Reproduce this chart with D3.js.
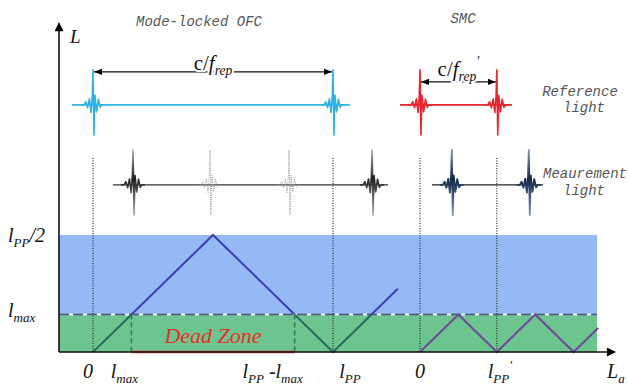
<html>
<script src="https://d3js.org/d3.v7.min.js"></script>
<style>
body {margin:0; background:#fff;}
text {font-family:"Liberation Serif", serif;}
.note {font-family:"Liberation Mono", monospace; font-style:italic; fill:#555; font-size:14px;}
</style>
<body>
<svg width=628 height=388></svg>
<script>
// lengths in units of l_PP
var lPP = 1, lMax = 0.16, lPP2 = 0.32, smcZero = 1.3625;
var xTickValues = [0, 0.16, 0.84, 1, 1.3625, 1.6825];
var xTickLabels = [[["0","i"]], [["l","i"],["max","sub"]], [["l","i"],["PP","sub"],[" -l","i"],["max","sub"]],
                   [["l","i"],["PP","sub"]], [["0","i"]], [["l","i"],["PP","sub"],["'","sup"]]];
var xLabelShift = [-5, -7, -22, 17, 0, 3];
var yTickValues = [0.5, 0.16];
var yTickLabels = [[["l","i"],["PP","sub"],["/2","i"]], [["l","i"],["max","sub"]]];
var ofcPath = [[0,0],[0.5,0.5],[1,0],[1.27,0.27]];
var smcPath = [[1.3625,0],[1.5225,0.16],[1.6825,0],[1.8425,0.16],[2.0025,0],[2.105,0.1025]];
var refOFC = [0, 1], refSMC = [1.3625, 1.6825];
var measOFC = [0.167, 1.163], ghostOFC = [0.4875, 0.817], measSMC = [1.495, 1.816];
var refRow = 1.056, measRow = 0.714, refArrow = 1.197, smcArrow = 1.154, dotTop = 0.829;
var refSpan = [-0.0875, 1.071], redSpan = [1.279, 1.746], graySpan = [0.083, 1.229], navySpan = [1.4125, 1.875];
var bandEnd = 2.1;
// normalised pulse glyph (dx, dy)
var pulseWave = [[-1,0],[-0.75,0],[-0.6,0.09],[-0.45,-0.08],[-0.3,0.17],[-0.16,-0.22],[-0.06,0.25],[0,1],
                 [0.08,-0.86],[0.16,0.27],[0.3,-0.2],[0.45,0.16],[0.6,-0.07],[0.75,0],[1,0]];

var svg = d3.select("svg");
var x = d3.scaleLinear().domain([-0.1417, 2.175]).range([59, 615]);
var y = d3.scaleLinear().domain([0, 1.41]).range([352, 22]);
var line = d3.line().x(d => x(d[0])).y(d => y(d[1]));
var x0 = x(x.domain()[0]);

var defs = svg.append("defs");
defs.append("marker").attr("id","ah").attr("viewBox","0 0 10 10").attr("refX",10).attr("refY",5)
  .attr("markerWidth",8).attr("markerHeight",8).attr("markerUnits","userSpaceOnUse").attr("orient","auto-start-reverse")
  .append("path").attr("d","M0,1L10,5L0,9z").attr("fill","#000");
defs.append("marker").attr("id","axh").attr("viewBox","0 0 10 10").attr("refX",9).attr("refY",5)
  .attr("markerWidth",11).attr("markerHeight",9).attr("markerUnits","userSpaceOnUse").attr("orient","auto")
  .append("path").attr("d","M0,0L10,5L0,10z").attr("fill","#000");
function grad(id, c1, c2) {
  var g = defs.append("linearGradient").attr("id", id).attr("x1",0).attr("y1",0).attr("x2",0).attr("y2",1);
  g.append("stop").attr("offset","0").attr("stop-color",c2);
  g.append("stop").attr("offset","0.45").attr("stop-color",c1);
  g.append("stop").attr("offset","1").attr("stop-color",c2);
}
grad("gGray", "#222", "#aaa");
grad("gNavy", "#13294a", "#7f95b5");
defs.append("clipPath").attr("id","above").append("rect").attr("x",0).attr("y",0).attr("width",628).attr("height",y(lMax));
defs.append("clipPath").attr("id","below").append("rect").attr("x",0).attr("y",y(lMax)).attr("width",628).attr("height",100);

// zones
svg.append("rect").attr("x",x0).attr("y",y(0.5))
  .attr("width",x(bandEnd)-x0).attr("height",y(lMax)-y(0.5)).attr("fill","#95b9f4");
svg.append("rect").attr("x",x0).attr("y",y(lMax))
  .attr("width",x(bandEnd)-x0).attr("height",y(0)-y(lMax)).attr("fill","#6cc48e");
svg.append("line").attr("x1",x0).attr("x2",x(bandEnd)).attr("y1",y(lMax)).attr("y2",y(lMax))
  .attr("stroke","#e8f4f4").attr("stroke-width",2);
svg.append("line").attr("x1",x0).attr("x2",x(bandEnd)).attr("y1",y(lMax)).attr("y2",y(lMax))
  .attr("stroke","#3d6288").attr("stroke-width",2).attr("stroke-dasharray","10,4");

// dead zone
[lMax, lPP - lMax].forEach(v => svg.append("line").attr("x1",x(v)).attr("x2",x(v)).attr("y1",y(lMax)).attr("y2",y(0))
  .attr("stroke","#2a7a45").attr("stroke-width",1.5).attr("stroke-dasharray","5,3"));
svg.append("line").attr("x1",x(lMax)).attr("x2",x(lPP-lMax)).attr("y1",y(0)).attr("y2",y(0))
  .attr("stroke","#e83a30").attr("stroke-width",2.5);
svg.append("text").attr("x",x(0.5)).attr("y",y(0.04)).attr("text-anchor","middle").attr("font-style","italic")
  .attr("font-size",22).attr("fill","#e8302a").text("Dead Zone");

// dotted guides
[0, lPP, smcZero, smcZero + lPP2].forEach(v => svg.append("line").attr("x1",x(v)).attr("x2",x(v))
  .attr("y1",y(dotTop)).attr("y2",y(0)).attr("stroke","#222").attr("stroke-width",1.1).attr("stroke-dasharray","1,1.5"));

// distance curves
svg.append("path").attr("d",line(ofcPath)).attr("fill","none").attr("stroke","#3b3db3").attr("stroke-width",2).attr("clip-path","url(#above)");
svg.append("path").attr("d",line(ofcPath)).attr("fill","none").attr("stroke","#2b6a5e").attr("stroke-width",2).attr("clip-path","url(#below)");
svg.append("path").attr("d",line(smcPath)).attr("fill","none").attr("stroke","#6e4e95").attr("stroke-width",2.2);

// axes
svg.append("line").attr("x1",x0).attr("x2",x0).attr("y1",y(0)).attr("y2",y(1.405))
  .attr("stroke","#000").attr("stroke-width",1.5).attr("marker-end","url(#axh)");
svg.append("line").attr("x1",x0).attr("x2",x(x.domain()[1])).attr("y1",y(0)).attr("y2",y(0))
  .attr("stroke","#111").attr("stroke-width",1.6).attr("marker-end","url(#axh)");

// pulses
function baseline(span, row, color, w) {
  svg.append("line").attr("x1",x(span[0])).attr("x2",x(span[1])).attr("y1",y(row)).attr("y2",y(row))
    .attr("stroke",color).attr("stroke-width",w);
}
function pulse(v, row, color, w, dash) {
  var p = d3.line().x(d => x(v) + d[0]*12).y(d => y(row) - d[1]*35);
  var el = svg.append("path").attr("d",p(pulseWave)).attr("fill","none").attr("stroke",color)
    .attr("stroke-width",w).attr("stroke-linejoin","round");
  if (dash) el.attr("stroke-dasharray",dash);
}
baseline(refSpan, refRow, "#33b5e5", 1.8);
refOFC.forEach(v => pulse(v, refRow, "#2fb2e6", 1.6));
baseline(redSpan, refRow, "#e8262e", 1.8);
refSMC.forEach(v => pulse(v, refRow, "#e8262e", 1.6));
baseline(graySpan, measRow, "#333", 1.2);
measOFC.forEach(v => pulse(v, measRow, "url(#gGray)", 1.6));
ghostOFC.forEach(v => pulse(v, measRow, "#999", 1, "1,1.2"));
baseline(navySpan, measRow, "#222", 1.2);
measSMC.forEach(v => pulse(v, measRow, "url(#gNavy)", 1.9));

// dimension arrows
svg.append("line").attr("x1",x(0)+1).attr("x2",x(lPP)-1).attr("y1",y(refArrow)).attr("y2",y(refArrow))
  .attr("stroke","#111").attr("stroke-width",1.2).attr("marker-start","url(#ah)").attr("marker-end","url(#ah)");
svg.append("line").attr("x1",x(smcZero)+1).attr("x2",x(smcZero+lPP2)-1).attr("y1",y(smcArrow)).attr("y2",y(smcArrow))
  .attr("stroke","#111").attr("stroke-width",1.2).attr("marker-start","url(#ah)").attr("marker-end","url(#ah)");

// math text helper
function mathText(px, py, parts, size, anchor, halo) {
  var t = svg.append("text").attr("x",px).attr("y",py).attr("font-size",size).attr("text-anchor",anchor || "middle").attr("fill","#111");
  if (halo) t.attr("stroke","#fff").attr("stroke-width",4).attr("paint-order","stroke");
  var shift = 0;
  parts.forEach(p => {
    var s = t.append("tspan").text(p[0]);
    var target = p[1] === "sub" ? size*0.26 : p[1] === "sup" ? -size*0.45 : 0;
    s.attr("dy", target - shift); shift = target;
    s.attr("font-style", p[1] === "n" ? "normal" : "italic");
    if (p[1] === "sub" || p[1] === "sup") s.attr("font-size", size*0.65);
  });
  return t;
}
mathText((x(0)+x(lPP))/2, y(refArrow)-2, [["c","n"],["/","n"],["f","i"],["rep","sub"]], 21, "middle", true);
mathText((x(smcZero)+x(smcZero+lPP2))/2, y(smcArrow)-6, [["c","n"],["/","n"],["f","i"],["rep","sub"],["'","sup"]], 21, "middle", true);

xTickValues.forEach((v,i) => mathText(x(v) + xLabelShift[i], 378, xTickLabels[i], 20));
yTickValues.forEach((v,i) => mathText(8, y(v) + (i === 0 ? 7 : 2), yTickLabels[i], 20, "start"));
mathText(70, 43, [["L","i"]], 19, "start");
mathText(607, 378, [["L","i"],["a","sub"]], 20, "start");

// notes
svg.append("text").attr("class","note").attr("x",199).attr("y",26).attr("text-anchor","middle").text("Mode-locked OFC");
svg.append("text").attr("class","note").attr("x",463).attr("y",23).attr("text-anchor","middle").attr("font-size",13).text("SMC");
svg.append("text").attr("class","note").attr("x",580).attr("y",96).attr("text-anchor","middle").text("Reference");
svg.append("text").attr("class","note").attr("x",584).attr("y",112).attr("text-anchor","middle").text("light");
svg.append("text").attr("class","note").attr("x",585).attr("y",178).attr("text-anchor","middle").text("Meaurement");
svg.append("text").attr("class","note").attr("x",584).attr("y",195).attr("text-anchor","middle").text("light");
</script>
</body>
</html>
